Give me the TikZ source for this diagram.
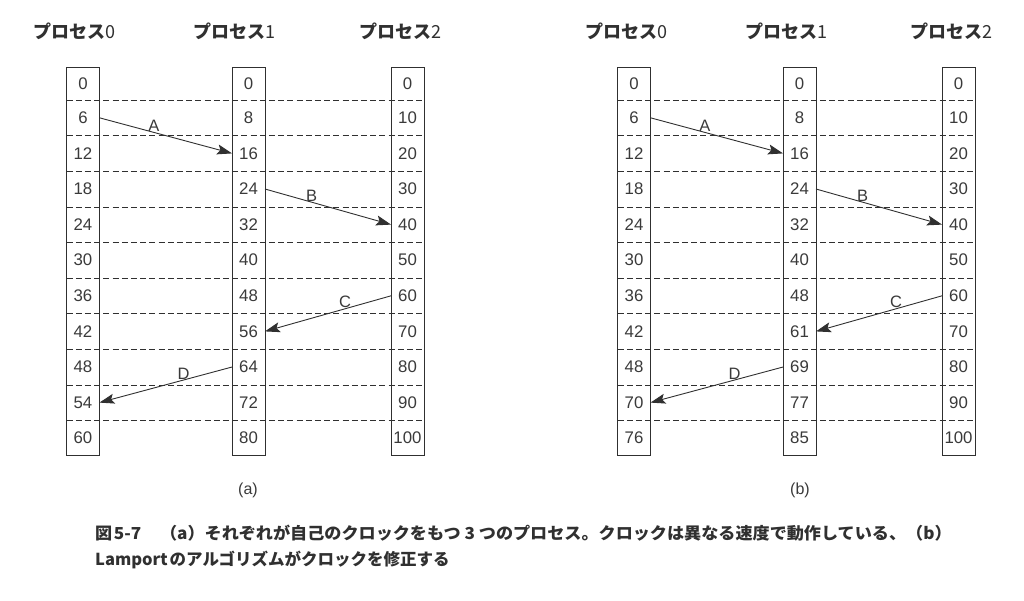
\documentclass[tikz,border=0pt]{standalone}
\usepackage{fontspec}
\setmainfont{Liberation Sans}
\newfontfamily\jp{Noto Sans CJK JP}
\usetikzlibrary{arrows.meta}
\definecolor{ink}{HTML}{303030}
\definecolor{txt}{HTML}{3A3A3A}
\newcommand{\clockcol}[3]{%
  \foreach \v [count=\rr from 0] in {#3} {%
    \pgfmathsetmacro\yt{\rr==0 ? 68 : 100+35.6*(\rr-1)}%
    \pgfmathsetmacro\yb{\rr==10 ? 455 : 100+35.6*\rr}%
    \pgfmathsetmacro\yc{(\yt+\yb)/2}%
    \pgfmathsetmacro\hh{\yb-\yt}%
    \node[cell, minimum height=\hh pt] (#1-\rr) at (#2,\yc) {\v};
  }%
  \draw[colbox] (#1-0.north west) rectangle (#1-10.south east);
}
\begin{document}
\begin{tikzpicture}[x=1pt,y=-1pt,
  cell/.style={inner sep=0pt, minimum width=32.5pt, text=txt, font=\fontsize{16.8}{18}\selectfont},
  colbox/.style={draw=ink, line width=0.9pt},
  sepline/.style={draw=ink, dash pattern=on 6pt off 3.2pt, line width=0.8pt},
  msg/.style={draw=ink, line width=0.9pt, -{Stealth[length=15pt,width=10pt,inset=3pt]}},
  lbl/.style={above, inner sep=0.5pt, text=txt, font=\fontsize{16.5}{18}\selectfont},
  head/.style={anchor=west, inner sep=0pt, text=ink, font=\jp\bfseries\fontsize{18}{20}\selectfont},
  sublabel/.style={inner sep=0pt, text=txt, font=\fontsize{16}{18}\selectfont},
  captext/.style={anchor=west, inner sep=0pt, text=ink, font=\jp\bfseries\fontsize{16.5}{18}\selectfont}]
\useasboundingbox[fill=white] (0,0) rectangle (1024,601);

% panel (a)
\clockcol{a-0}{83}{0,6,12,18,24,30,36,42,48,54,60}
\clockcol{a-1}{248.5}{0,8,16,24,32,40,48,56,64,72,80}
\clockcol{a-2}{407.5}{0,10,20,30,40,50,60,70,80,90,100}
% panel (b)
\clockcol{b-0}{634}{0,6,12,18,24,30,36,42,48,70,76}
\clockcol{b-1}{799.5}{0,8,16,24,32,40,48,61,69,77,85}
\clockcol{b-2}{958.5}{0,10,20,30,40,50,60,70,80,90,100}

\foreach \p in {a,b} {
  \foreach \r in {0,...,9} {
    \draw[sepline] (\p-0-\r.south west) -- (\p-2-\r.south east);
  }
  \draw[msg] (\p-0-1.east) -- node[lbl,pos=0.41]{A} (\p-1-2.west);
  \draw[msg] (\p-1-3.east) -- node[lbl,pos=0.37]{B} (\p-2-4.west);
  \draw[msg] (\p-2-6.west) -- node[lbl,pos=0.365]{C} (\p-1-7.east);
  \draw[msg] (\p-1-8.west) -- node[lbl,pos=0.365]{D} (\p-0-9.east);
}

% headers
\node[head] (ha0) at (33,31) {プロセス{\mdseries 0}};
\node[head] (ha1) at (193,31) {プロセス{\mdseries 1}};
\node[head] (ha2) at (359,31) {プロセス{\mdseries 2}};
\node[head] (hb0) at (585,31) {プロセス{\mdseries 0}};
\node[head] (hb1) at (745,31) {プロセス{\mdseries 1}};
\node[head] (hb2) at (910,31) {プロセス{\mdseries 2}};

% sub labels
\node[sublabel] (la) at (248,490) {(a)};
\node[sublabel] (lb) at (800,490) {(b)};

% caption
\node[captext] (cap1) at (95,533) {\scalebox{1.037}[1]{図\hspace{1.5pt}5-7\hspace{1.1em}（a）それぞれが自己のクロックをもつ 3 つのプロセス。クロックは異なる速度で動作している、（b）}};
\node[captext] (cap2) at (95,560) {Lamport\hspace{2pt}のアルゴリズムがクロックを修正する};
\end{tikzpicture}
\end{document}
